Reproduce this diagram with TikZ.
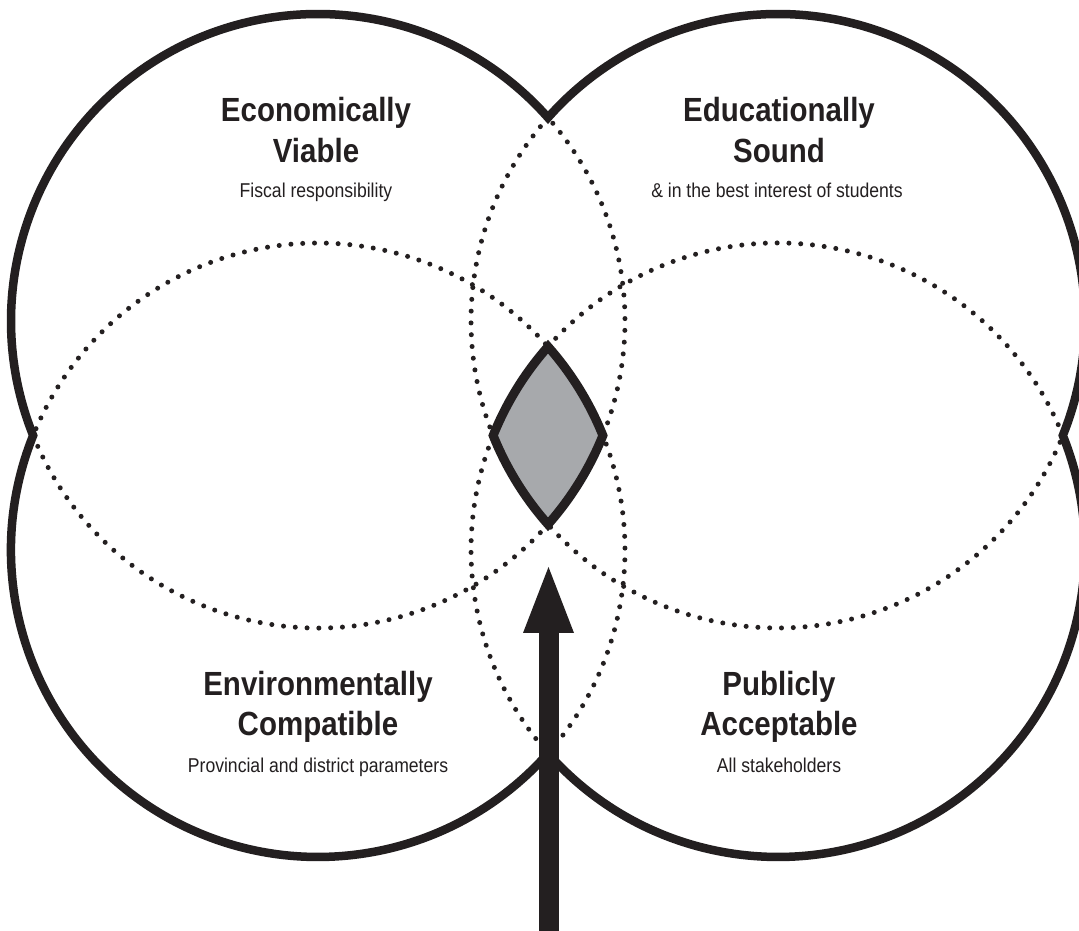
\documentclass[tikz,border=0pt]{standalone}
\usepackage{fontspec}
\setmainfont{Liberation Sans}[FakeStretch=0.88]
\usetikzlibrary{arrows.meta}
\definecolor{ink}{HTML}{231F20}
\definecolor{lens}{HTML}{A7A9AC}
\begin{document}
\begin{tikzpicture}[x=1pt,y=1pt,
  outer/.style={line width=8.5pt, draw=ink, line join=miter},
  dots/.style={line width=5pt, draw=ink, dash pattern=on 0pt off 11.8pt, line cap=round},
  lensline/.style={line width=9pt, draw=ink, fill=lens, line join=miter},
  head/.style={font=\fontsize{33.5}{40}\selectfont\bfseries, text=ink, anchor=base, inner sep=0pt},
  sub/.style={font=\fontsize{20}{24}\selectfont, text=ink, anchor=base, inner sep=0pt}]
\useasboundingbox (0,0) rectangle (1079,930);
\fill[white] (0,0) rectangle (1079,930);
\pgfmathsetmacro\al{acos(230/307)}
\pgfmathsetmacro\be{acos(114.5/307)}
\pgfmathsetmacro\ga{90-\be}
\pgfmathsetmacro\aA{180+\ga}
\pgfmathsetmacro\aB{180-\ga}
\pgfmathsetmacro\aC{360-\al}
\pgfmathsetmacro\aD{180+\al}
\pgfmathsetmacro\aE{360+\ga}
\pgfmathsetmacro\aF{-\ga}
\pgfmathsetmacro\aG{180-\al}
\pgfmathsetmacro\aH{360+\al}
\pgfmathsetmacro\aI{540-\ga}
\pgfmathsetmacro\aJ{360-\ga}
\coordinate (TL) at (318,609);
\coordinate (TR) at (778,609);
\coordinate (BL) at (318,380);
\coordinate (BR) at (778,380);
% interior dotted arcs
\draw[dots] ([shift={(\aA:307pt)}]TL) arc[start angle=\aA, end angle=\aH, radius=307pt];
\draw[dots] ([shift={(\aC:307pt)}]BL) arc[start angle=\aC, end angle=\aI, radius=307pt];
\draw[dots] ([shift={(\ga:307pt)}]BR) arc[start angle=\ga, end angle=\aD, radius=307pt];
\draw[dots] ([shift={(\aG:307pt)}]TR) arc[start angle=\aG, end angle=\aJ, radius=307pt];
% central lens
\draw[lensline] ([shift={(\aG:307pt)}]BR) arc[start angle=\aG, end angle=\aB, radius=307pt]
  arc[start angle=\aA, end angle=\aD, radius=307pt]
  arc[start angle=\aC, end angle=\aJ, radius=307pt]
  arc[start angle=\ga, end angle=\al, radius=307pt] -- cycle;
% outer boundary
\draw[outer] ([shift={(\al:307pt)}]TL) arc[start angle=\al, end angle=\aA, radius=307pt]
  arc[start angle=\aB, end angle=\aC, radius=307pt]
  arc[start angle=\aD, end angle=\aE, radius=307pt]
  arc[start angle=\aF, end angle=\aG, radius=307pt] -- cycle;
% arrow
\coordinate (abot) at (548.5,-10);
\coordinate (atip) at (548.5,363);
\draw[line width=20pt, draw=ink, -{Triangle[length=66pt,width=51pt,line width=0pt]}] (abot) -- (atip);
% texts
\node[head] (evA) at (316,808) {Economically};
\node[head] (evB) at (316,767) {Viable};
\node[sub]  (evC) at (316,732) {Fiscal responsibility};
\node[head] (esA) at (779,808) {Educationally};
\node[head] (esB) at (779,767) {Sound};
\node[sub]  (esC) at (777,732) {\& in the best interest of students};
\node[head] (ecA) at (318,235) {Environmentally};
\node[head] (ecB) at (318,195) {Compatible};
\node[sub]  (ecC) at (318,158) {Provincial and district parameters};
\node[head] (paA) at (779,235) {Publicly};
\node[head] (paB) at (779,195) {Acceptable};
\node[sub]  (paC) at (779,158) {All stakeholders};
\end{tikzpicture}
\end{document}
